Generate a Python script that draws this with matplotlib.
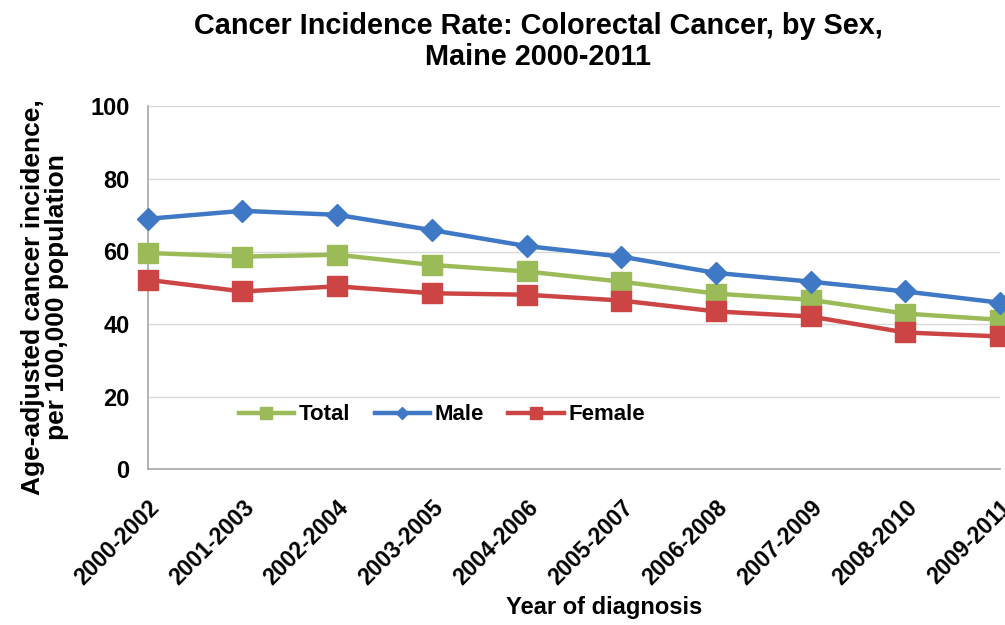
import matplotlib
matplotlib.use('Agg')
import matplotlib.pyplot as plt

periods = ['2000-2002', '2001-2003', '2002-2004', '2003-2005', '2004-2006',
           '2005-2007', '2006-2008', '2007-2009', '2008-2010', '2009-2011']
total = [59.6, 58.6, 59.1, 56.3, 54.5, 51.7, 48.4, 46.7, 42.9, 41.2]
male = [69.0, 71.2, 70.1, 65.9, 61.5, 58.6, 54.1, 51.7, 49.0, 45.9]
female = [52.2, 49.0, 50.4, 48.5, 48.1, 46.5, 43.5, 42.1, 37.7, 36.6]

plt.rcParams['font.family'] = ['Liberation Sans', 'DejaVu Sans']
plt.rcParams['font.weight'] = 'bold'

fig = plt.figure(figsize=(10.05, 6.25), dpi=100)
ax = fig.add_axes([0.147, 0.249, 0.848, 0.581])

x = list(range(len(periods)))
ax.plot(x, total, color='#9BBB59', lw=3.2, marker='s', ms=14, label='Total', clip_on=False, zorder=3)
ax.plot(x, male, color='#3F78C4', lw=3.2, marker='D', ms=11, label='Male', clip_on=False, zorder=3)
ax.plot(x, female, color='#CC4444', lw=3.2, marker='s', ms=14, label='Female', clip_on=False, zorder=3)

ax.set_xlim(0, len(periods) - 1)
ax.set_ylim(0, 100)
ax.set_yticks([0, 20, 40, 60, 80, 100])
ax.set_xticks(x)
ax.set_xticklabels(periods, rotation=45, ha='right', rotation_mode='anchor', fontsize=16.5)
ax.tick_params(axis='y', labelsize=17, length=0, pad=13)
ax.tick_params(axis='x', length=0, pad=19)
ax.grid(axis='y', color='#D9D9D9', lw=1)
ax.set_axisbelow(True)
for s in ['top', 'right']:
    ax.spines[s].set_visible(False)
for s in ['left', 'bottom']:
    ax.spines[s].set_color('#A6A6A6')
    ax.spines[s].set_linewidth(1.2)

ax.set_title('Cancer Incidence Rate: Colorectal Cancer, by Sex,\nMaine 2000-2011',
             fontsize=20.8, fontweight='bold', pad=30, linespacing=1.12, x=0.458)
ax.set_ylabel('Age-adjusted cancer incidence,\nper 100,000 population', fontsize=19,
              fontweight='bold', linespacing=1.0)
ax.yaxis.set_label_coords(-0.092, 0.474)
ax.set_xlabel('Year of diagnosis', fontsize=17, fontweight='bold')
ax.xaxis.set_label_coords(0.536, -0.35)

ax.legend(loc='center', bbox_to_anchor=(0.345, 0.15), ncol=3, frameon=False,
          fontsize=16, markerscale=0.6, handlelength=2.5, columnspacing=1.1,
          handletextpad=0.2)

fig.savefig('out.png', dpi=100)
